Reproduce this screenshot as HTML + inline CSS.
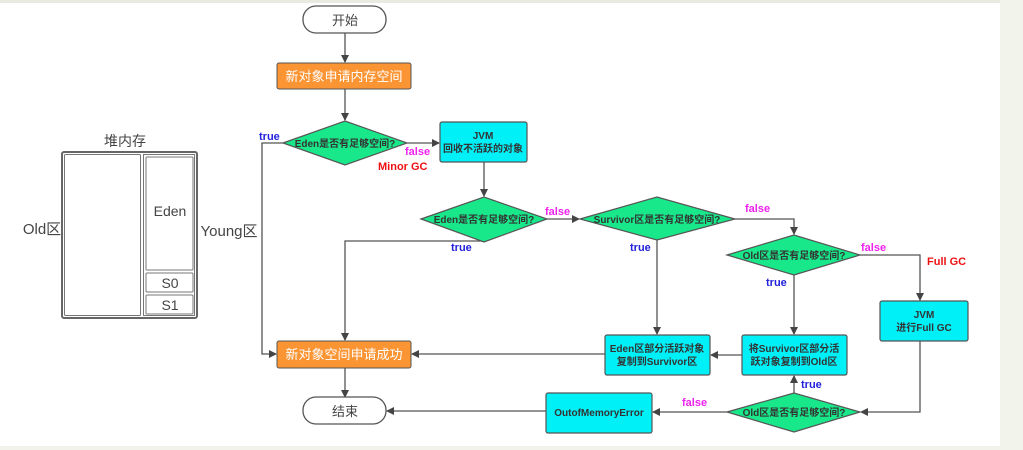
<!DOCTYPE html>
<html><head><meta charset="utf-8"><style>
html,body{margin:0;padding:0;background:#fff;}
svg{display:block;font-family:"Liberation Sans","Noto Sans CJK SC",sans-serif;}
</style></head><body>
<svg width="1023" height="450" viewBox="0 0 1023 450" xmlns="http://www.w3.org/2000/svg">
<defs><marker id="a" markerWidth="8" markerHeight="8" refX="7" refY="4" orient="auto" markerUnits="userSpaceOnUse"><path d="M0,0 L8,4 L0,8 z" fill="#444"/></marker></defs>
<rect x="0" y="0" width="1023" height="450" fill="#fff"/>
<rect x="0" y="0" width="1023" height="3" fill="#e8ebe2"/>
<rect x="1000" y="0" width="23" height="450" fill="#f2f4ec"/>
<rect x="0" y="446" width="1023" height="4" fill="#f2f4ec"/>

<!-- heap -->
<text x="125" y="146" font-size="14" fill="#444" text-anchor="middle">堆内存</text>
<rect x="62" y="152" width="135" height="166" rx="2" fill="none" stroke="#666" stroke-width="2"/>
<rect x="64.5" y="154.5" width="76" height="161" rx="1" fill="#fff" stroke="#777"/>
<rect x="143.5" y="154.5" width="51" height="161" fill="none" stroke="#777"/>
<rect x="146" y="157" width="47" height="113" rx="1" fill="#fff" stroke="#777"/>
<rect x="146" y="273" width="47" height="19" rx="1" fill="#fff" stroke="#777"/>
<rect x="146" y="295" width="47" height="19" rx="1" fill="#fff" stroke="#777"/>
<text x="170" y="216" font-size="14" fill="#444" text-anchor="middle">Eden</text>
<text x="170" y="288" font-size="14" fill="#444" text-anchor="middle">S0</text>
<text x="170" y="310" font-size="14" fill="#444" text-anchor="middle">S1</text>
<text x="42" y="234" font-size="15" fill="#444" text-anchor="middle">Old区</text>
<text x="229" y="236" font-size="15" fill="#444" text-anchor="middle">Young区</text>

<g stroke="#555" stroke-width="1.3" fill="none">
<line x1="345" y1="33" x2="345" y2="62" marker-end="url(#a)"/>
<line x1="345" y1="89" x2="345" y2="120" marker-end="url(#a)"/>
<line x1="407" y1="143" x2="439" y2="143" marker-end="url(#a)"/>
<line x1="484" y1="162" x2="484" y2="196" marker-end="url(#a)"/>
<line x1="547" y1="219" x2="579" y2="219" marker-end="url(#a)"/>
<polyline points="283,143 262,143 262,354 276,354" marker-end="url(#a)"/>
<polyline points="484,241 345,241 345,340" marker-end="url(#a)"/>
<line x1="345" y1="368" x2="345" y2="397" marker-end="url(#a)"/>
<line x1="605" y1="354" x2="412" y2="354" marker-end="url(#a)"/>
<line x1="657" y1="240" x2="657" y2="334" marker-end="url(#a)"/>
<polyline points="735,219 794,219 794,234" marker-end="url(#a)"/>
<polyline points="860,255 920,255 920,300" marker-end="url(#a)"/>
<line x1="794" y1="275" x2="794" y2="334" marker-end="url(#a)"/>
<polyline points="920,341 920,412 861,412" marker-end="url(#a)"/>
<line x1="794" y1="393" x2="794" y2="376" marker-end="url(#a)"/>
<line x1="742" y1="355" x2="711" y2="355" marker-end="url(#a)"/>
<line x1="727" y1="412" x2="653" y2="412" marker-end="url(#a)"/>
<line x1="546" y1="411" x2="387" y2="411" marker-end="url(#a)"/>
</g>

<!-- nodes -->
<rect x="303" y="6" width="83" height="27" rx="13" fill="#fff" stroke="#555" stroke-width="1.3"/>
<text x="345" y="25" font-size="13" fill="#444" text-anchor="middle">开始</text>
<rect x="277" y="63" width="134" height="26" rx="2" fill="#fb9433" stroke="#555"/>
<text x="344" y="81" font-size="13" fill="#fff" text-anchor="middle">新对象申请内存空间</text>
<rect x="277" y="341" width="134" height="27" rx="2" fill="#fb9433" stroke="#555"/>
<text x="344" y="359" font-size="13" fill="#fff" text-anchor="middle">新对象空间申请成功</text>
<rect x="303" y="397" width="83" height="27" rx="13" fill="#fff" stroke="#555" stroke-width="1.3"/>
<text x="345" y="416" font-size="13" fill="#444" text-anchor="middle">结束</text>

<g fill="#19e88a" stroke="#555" stroke-width="1.2">
<polygon points="283,143 345,121 407,143 345,165"/>
<polygon points="421,219 484,197 547,219 484,242"/>
<polygon points="580,219 657,197 735,219 657,240"/>
<polygon points="727,255 794,235 860,255 794,275"/>
<polygon points="727,412 794,393 860,412 794,432"/>
</g>
<g font-size="10" fill="#333" text-anchor="middle" font-weight="bold">
<text x="345" y="147">Eden是否有足够空间?</text>
<text x="484" y="223">Eden是否有足够空间?</text>
<text x="657" y="223">Survivor区是否有足够空间?</text>
<text x="794" y="259">Old区是否有足够空间?</text>
<text x="794" y="416">Old区是否有足够空间?</text>
</g>

<g fill="#00f0f8" stroke="#555" stroke-width="1.2">
<rect x="440" y="122" width="87" height="40" rx="2"/>
<rect x="880" y="301" width="88" height="40" rx="2"/>
<rect x="605" y="335" width="105" height="40" rx="2"/>
<rect x="742" y="335" width="105" height="40" rx="2"/>
<rect x="546" y="393" width="106" height="40" rx="2"/>
</g>
<g font-size="10" fill="#333" text-anchor="middle" font-weight="bold">
<text x="483" y="139">JVM</text><text x="483" y="152">回收不活跃的对象</text>
<text x="924" y="318">JVM</text><text x="924" y="331">进行Full GC</text>
<text x="657" y="352">Eden区部分活跃对象</text><text x="657" y="365">复制到Survivor区</text>
<text x="794" y="352">将Survivor区部分活</text><text x="794" y="365">跃对象复制到Old区</text>
<text x="599" y="416">OutofMemoryError</text>
</g>

<g font-size="11" font-weight="bold">
<text x="259" y="140" fill="#2222dd">true</text>
<text x="405" y="155" fill="#ee22ee">false</text>
<text x="378" y="170" fill="#ee1111">Minor GC</text>
<text x="545" y="215" fill="#ee22ee">false</text>
<text x="451" y="251" fill="#2222dd">true</text>
<text x="630" y="251" fill="#2222dd">true</text>
<text x="745" y="212" fill="#ee22ee">false</text>
<text x="861" y="251" fill="#ee22ee">false</text>
<text x="927" y="265" fill="#ee1111">Full GC</text>
<text x="766" y="286" fill="#2222dd">true</text>
<text x="801" y="388" fill="#2222dd">true</text>
<text x="682" y="406" fill="#ee22ee">false</text>
</g>
</svg>
</body></html>
